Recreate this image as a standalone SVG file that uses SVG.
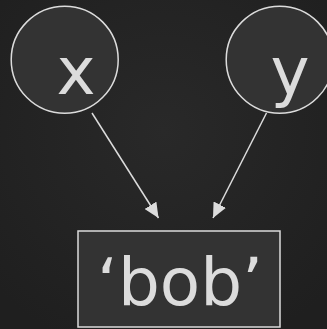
<svg xmlns="http://www.w3.org/2000/svg" width="327" height="329" viewBox="0 0 327 329">
  <style>
    .node { fill: #333333; stroke: #dcdcdc; stroke-width: 1.5; }
    .label { fill: #dcdcdc; font-family: "DejaVu Sans", Verdana, sans-serif; font-size: 66px; text-anchor: middle; }
    .edge { stroke: #dcdcdc; stroke-width: 1.5; fill: none; marker-end: url(#arrow); }
  </style>
  <defs>
    <marker id="arrow" viewBox="0 0 15 14" refX="15" refY="7" markerWidth="15" markerHeight="14" markerUnits="userSpaceOnUse" orient="auto">
      <path d="M0,0 L15,7 L0,14 z" fill="#dcdcdc"/>
    </marker>
    <radialGradient id="bg" cx="50%" cy="40%" r="70%">
      <stop offset="0" stop-color="#292929"/>
      <stop offset="1" stop-color="#1f1f1f"/>
    </radialGradient>
  </defs>
  <rect width="327" height="329" fill="url(#bg)"/>
  <g id="edges">
    <line class="edge" x1="92" y1="113" x2="158.5" y2="218"/>
    <line class="edge" x1="266.5" y1="113" x2="213" y2="218"/>
  </g>
  <g id="node-x">
    <circle class="node" cx="64.7" cy="59.7" r="53.5"/>
    <text class="label" x="76" y="94">x</text>
  </g>
  <g id="node-y">
    <circle class="node" cx="279.7" cy="59.7" r="53.5"/>
    <text class="label" x="290" y="94">y</text>
  </g>
  <g id="node-bob">
    <rect class="node" x="78" y="231" width="202" height="96"/>
    <text class="label" x="180" y="305">‘bob’</text>
  </g>
</svg>
